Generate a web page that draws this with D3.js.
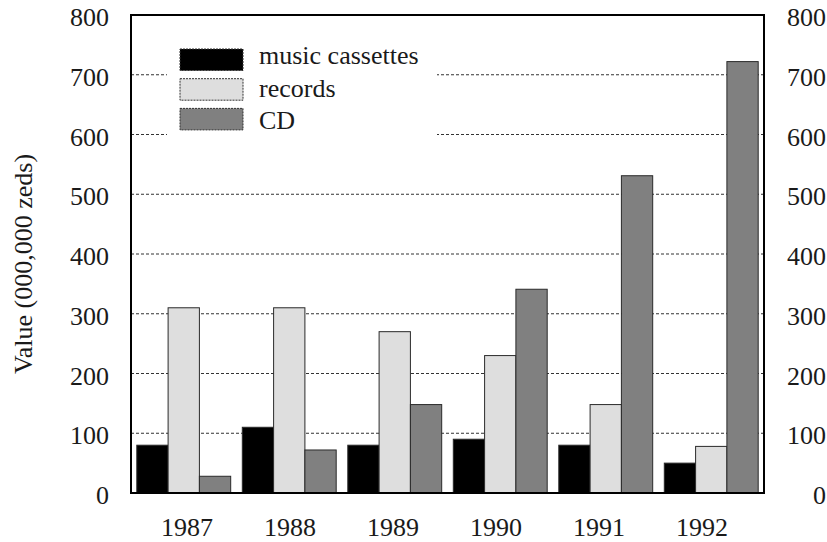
<!DOCTYPE html>
<html>
<head>
<meta charset="utf-8">
<script src="https://cdn.jsdelivr.net/npm/d3@7"></script>
<style>
  html, body { margin: 0; padding: 0; background: #fff; }
  svg { display: block; }
</style>
</head>
<body>
<svg id="chart" width="827" height="542"></svg>
<script>
const years = ["1987", "1988", "1989", "1990", "1991", "1992"];
const seriesNames = ["music cassettes", "records", "CD"];
const cassettes = [80, 110, 80, 90, 80, 50];
const records = [310, 310, 270, 230, 148, 78];
const cds = [28, 72, 148, 341, 531, 722];
const yTicks = [0, 100, 200, 300, 400, 500, 600, 700, 800];
const gridTicks = [100, 200, 300, 400, 500, 600, 700];
const colors = ["#000000", "#dedede", "#808080"];
const yTitle = "Value (000,000 zeds)";

const seriesValues = [cassettes, records, cds];
const svg = d3.select("#chart");

const L = 131, R = 764, T = 15, B = 493;

const y = d3.scaleLinear().domain([0, 800]).range([B, T]);
const x0 = d3.scaleBand().domain(years).range([L, R]).paddingInner(0.11).paddingOuter(0.055);
const x1 = d3.scaleBand().domain(seriesNames).range([0, x0.bandwidth()]);
const xLabel = d3.scalePoint().domain(years).range([187, 702]);

function txt(sel) {
  return sel.style("font-family", "Liberation Serif").attr("fill", "#1a1a1a").attr("font-size", 26);
}

// gridlines
svg.append("g").selectAll("line").data(gridTicks).join("line")
  .attr("x1", L).attr("x2", R)
  .attr("y1", d => y(d)).attr("y2", d => y(d))
  .attr("stroke", "#333").attr("stroke-width", 1)
  .attr("stroke-dasharray", "3,2");

// legend background
svg.append("rect").attr("x", 167).attr("y", 38).attr("width", 270).attr("height", 104).attr("fill", "#fff");

// bars
const groups = svg.append("g").selectAll("g").data(years).join("g")
  .attr("transform", d => `translate(${x0(d)},0)`);
groups.selectAll("rect")
  .data((d, i) => seriesNames.map((s, k) => ({ s, k, v: seriesValues[k][i] })))
  .join("rect")
  .attr("x", d => x1(d.s))
  .attr("y", d => y(d.v))
  .attr("width", x1.bandwidth())
  .attr("height", d => y(0) - y(d.v))
  .attr("fill", d => colors[d.k])
  .attr("stroke", "#2a2a2a").attr("stroke-width", 1);

// frame
svg.append("rect").attr("x", L).attr("y", T).attr("width", R - L).attr("height", B - T)
  .attr("fill", "none").attr("stroke", "#000").attr("stroke-width", 2);

// y tick labels left & right
txt(svg.append("g").selectAll("text").data(yTicks).join("text"))
  .attr("x", 109).attr("y", d => y(d) + 11)
  .attr("text-anchor", "end").text(d => d);
txt(svg.append("g").selectAll("text").data(yTicks).join("text"))
  .attr("x", 826).attr("y", d => y(d) + 11)
  .attr("text-anchor", "end").text(d => d);

// x labels
txt(svg.append("g").selectAll("text").data(years).join("text"))
  .attr("x", d => xLabel(d)).attr("y", 536)
  .attr("text-anchor", "middle").text(d => d);

// y title
txt(svg.append("text"))
  .attr("transform", "translate(32,264) rotate(-90)")
  .attr("text-anchor", "middle").text(yTitle);

// legend
const leg = svg.append("g").selectAll("g").data(seriesNames).join("g");
leg.append("rect")
  .attr("x", 180).attr("y", (d, i) => 49 + i * 29.7)
  .attr("width", 63).attr("height", 21.5)
  .attr("fill", (d, i) => colors[i])
  .attr("stroke", "#333").attr("stroke-width", 1).attr("stroke-dasharray", "2,1");
txt(leg.append("text"))
  .attr("x", 259).attr("y", (d, i) => 64.3 + i * 32.3)
  .text(d => d);
</script>
</body>
</html>
